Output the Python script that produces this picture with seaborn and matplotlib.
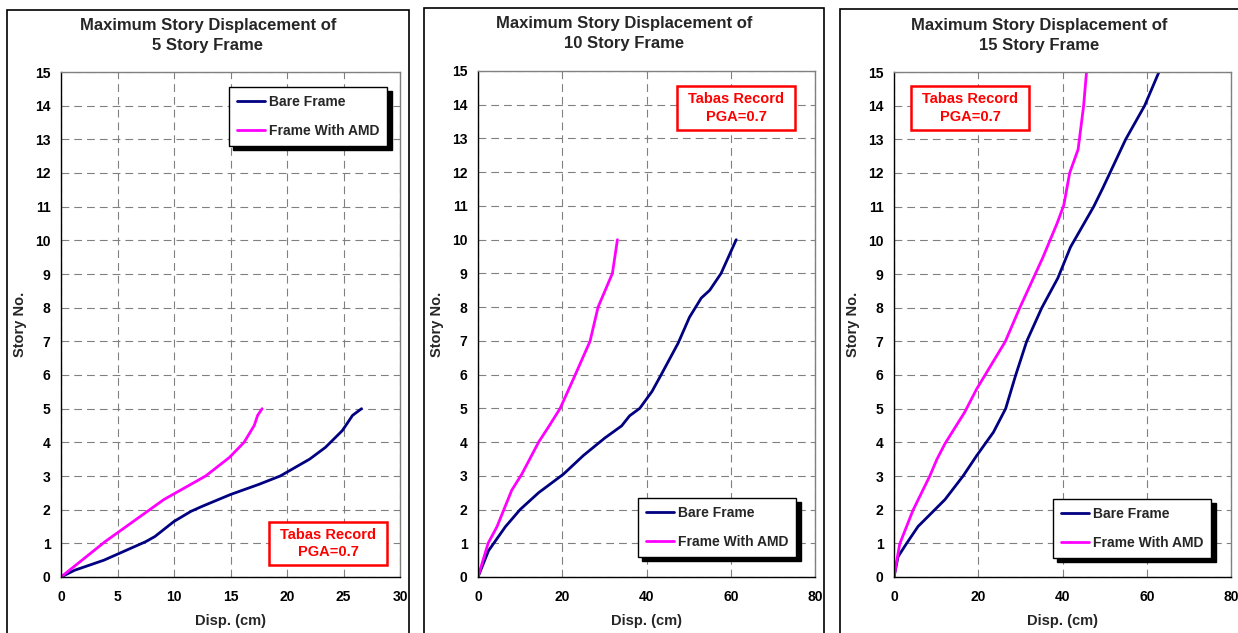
import matplotlib
matplotlib.use("Agg")
import matplotlib.pyplot as plt
from matplotlib.patches import Rectangle
import pandas as pd
import seaborn as sns

# ---- data: maximum story displacement (cm) per story, Tabas record PGA = 0.7 ----
series_names = ["Bare Frame", "Frame With AMD"]

bare5_disp = [0, 1.2, 3.8, 7.5, 8.3, 10.0, 11.5, 12.5, 15.0, 17.5, 19.4, 22.0, 23.4, 24.9, 25.8, 26.6]
bare5_story = [0, 0.2, 0.5, 1.05, 1.2, 1.65, 1.95, 2.1, 2.45, 2.75, 3.0, 3.5, 3.85, 4.35, 4.8, 5.0]
amd5_disp = [0, 3.9, 9.1, 12.8, 14.9, 16.2, 17.1, 17.4, 17.8]
amd5_story = [0, 1.05, 2.3, 3.0, 3.55, 4.0, 4.5, 4.8, 5.0]

bare10_disp = [0, 2.5, 6.5, 10.0, 14.4, 20.3, 25.0, 30.1, 34.1, 36.0, 38.4, 41.3, 43.5,
               47.5, 50.2, 53.0, 55.0, 57.7, 61.3]
bare10_story = [0, 0.78, 1.49, 2.0, 2.5, 3.05, 3.6, 4.12, 4.48, 4.78, 5.0, 5.5, 6.0,
                6.93, 7.7, 8.27, 8.5, 9.0, 10.0]
amd10_disp = [0, 2.4, 4.5, 8.0, 10.4, 14.4, 17.0, 19.5, 23.0, 26.6, 28.5, 31.9, 33.1]
amd10_story = [0, 1.0, 1.49, 2.57, 3.05, 4.0, 4.5, 5.0, 5.97, 6.99, 8.0, 9.0, 10.0]

bare15_disp = [0, 0.95, 2.9, 5.7, 8.9, 12.1, 16.4, 19.6, 23.6, 26.5, 28.9, 31.5, 35.1,
               38.9, 41.9, 47.4, 49.6, 55.0, 59.5, 62.9]
bare15_story = [0, 0.6, 0.98, 1.5, 1.9, 2.3, 3.0, 3.6, 4.3, 5.0, 6.0, 7.0, 8.0,
                8.88, 9.8, 11.0, 11.56, 13.0, 14.0, 15.0]
amd15_disp = [0, 1.35, 4.5, 8.5, 10.2, 12.1, 16.8, 19.6, 26.4, 29.8, 35.3, 38.7, 40.3,
              41.7, 43.7, 45.0, 45.7]
amd15_story = [0, 0.98, 1.98, 3.0, 3.5, 3.96, 4.9, 5.58, 6.99, 7.98, 9.48, 10.5, 11.04,
               12.0, 12.7, 13.98, 15.0]

panel_titles = ["Maximum Story Displacement of\n5 Story Frame",
                "Maximum Story Displacement of\n10 Story Frame",
                "Maximum Story Displacement of\n15 Story Frame"]
x_max = [30, 80, 80]
x_step = [5, 20, 20]
y_ticks = list(range(0, 16))
x_label = "Disp. (cm)"
y_label = "Story No."
record_note = "Tabas Record\nPGA=0.7"

curves = [
    ((bare5_disp, bare5_story), (amd5_disp, amd5_story)),
    ((bare10_disp, bare10_story), (amd10_disp, amd10_story)),
    ((bare15_disp, bare15_story), (amd15_disp, amd15_story)),
]

# ---- styling ----
sns.set_theme(style="white")
plt.rcParams["font.family"] = ["Liberation Sans", "DejaVu Sans"]
plt.rcParams["font.weight"] = "bold"

W, H = 1238, 633
fig = plt.figure(figsize=(W / 100, H / 100), dpi=100)
fig.patch.set_facecolor("white")


def fx(px):
    return px / W


def fy(py):
    return 1 - py / H


colors = {"Bare Frame": "#000080", "Frame With AMD": "#FF00FF"}
grid_gray = "#808080"

# pixel layout of each chart block
layout = [
    dict(frame=(7, 10, 409), axes=(61, 72, 400, 577), title_y=35.5, ylab_x=20,
         legend=(229, 87), note=(269, 522, 387, 565)),
    dict(frame=(424, 8, 824), axes=(478, 71, 815, 577), title_y=33.5, ylab_x=437.5,
         legend=(638, 498), note=(677, 86, 795, 130)),
    dict(frame=(840, 9, 1245), axes=(894, 72, 1231, 577), title_y=35.5, ylab_x=853,
         legend=(1053, 499), note=(911, 86, 1029, 130)),
]

for i, lay in enumerate(layout):
    (bx, by), (mx, my) = curves[i]
    df = pd.concat([
        pd.DataFrame({"disp": bx, "story": by, "series": series_names[0]}),
        pd.DataFrame({"disp": mx, "story": my, "series": series_names[1]}),
    ], ignore_index=True)

    l, t, r, b = lay["axes"]
    ax = fig.add_axes([fx(l), fy(b), fx(r) - fx(l), (b - t) / H])
    sns.lineplot(data=df, x="disp", y="story", hue="series", palette=colors,
                 sort=False, estimator=None, linewidth=2.0, ax=ax)

    ax.set_xlim(0, x_max[i])
    ax.set_ylim(0, 15)
    ax.set_xticks(range(0, x_max[i] + 1, x_step[i]))
    ax.set_yticks(y_ticks)
    ax.set_xlabel("")
    ax.set_ylabel("")
    ax.grid(True, color=grid_gray, linestyle=(0, (7, 4.5)), linewidth=0.8)
    ax.set_axisbelow(True)
    ax.tick_params(axis="both", which="major", direction="out", length=3.5, width=1,
                   color="black", labelsize=10, labelcolor="black", pad=4)
    ax.tick_params(axis="x", pad=6)
    for lab in ax.get_xticklabels() + ax.get_yticklabels():
        lab.set_fontweight("bold")
    for side in ("left", "bottom"):
        ax.spines[side].set_color("black")
        ax.spines[side].set_linewidth(1.0)
    for side in ("top", "right"):
        ax.spines[side].set_color(grid_gray)
        ax.spines[side].set_linewidth(1.0)

    handles, labels = ax.get_legend_handles_labels()
    lx, ly = lay["legend"]
    leg = ax.legend(handles, labels, loc="upper left",
                    bbox_to_anchor=(fx(lx), fy(ly)), bbox_transform=fig.transFigure,
                    borderaxespad=0, fancybox=False, frameon=True,
                    shadow={"ox": 3, "oy": -3, "color": "black", "alpha": 1},
                    prop={"size": 10, "weight": "bold"}, handlelength=2.05,
                    handletextpad=0.3, borderpad=0.55, labelspacing=1.1)
    leg.get_frame().set_edgecolor("black")
    leg.get_frame().set_linewidth(1.0)
    leg.get_frame().set_facecolor("white")
    for h in leg.get_lines():
        h.set_linewidth(2.0)

    # chart block border
    fl, ft, fr = lay["frame"]
    fig.add_artist(Rectangle((fx(fl), fy(700)), fx(fr) - fx(fl), (700 - ft) / H,
                             transform=fig.transFigure, fill=False,
                             edgecolor="black", linewidth=1.2))

    # titles and axis labels
    cx = (fl + min(fr, 1239)) / 2
    fig.text(fx(cx), fy(lay["title_y"]), panel_titles[i], ha="center", va="center",
             fontsize=12, fontweight="bold", linespacing=1.43)
    fig.text(fx((l + r) / 2), fy(621), x_label, ha="center", va="center",
             fontsize=10.5, fontweight="bold")
    fig.text(fx(lay["ylab_x"]), fy((t + b) / 2), y_label, ha="center", va="center",
             rotation=90, fontsize=10.5, fontweight="bold")

    # record annotation box
    nl, nt, nr, nb = lay["note"]
    fig.add_artist(Rectangle((fx(nl), fy(nb)), fx(nr) - fx(nl), (nb - nt) / H,
                             transform=fig.transFigure, facecolor="white",
                             edgecolor="#FF0000", linewidth=1.8, zorder=5))
    fig.text(fx((nl + nr) / 2), fy((nt + nb) / 2), record_note, ha="center",
             va="center", multialignment="center", color="#FF0000", fontsize=10.5,
             fontweight="bold", linespacing=1.3, zorder=6)

fig.savefig("out.png", dpi=100)
